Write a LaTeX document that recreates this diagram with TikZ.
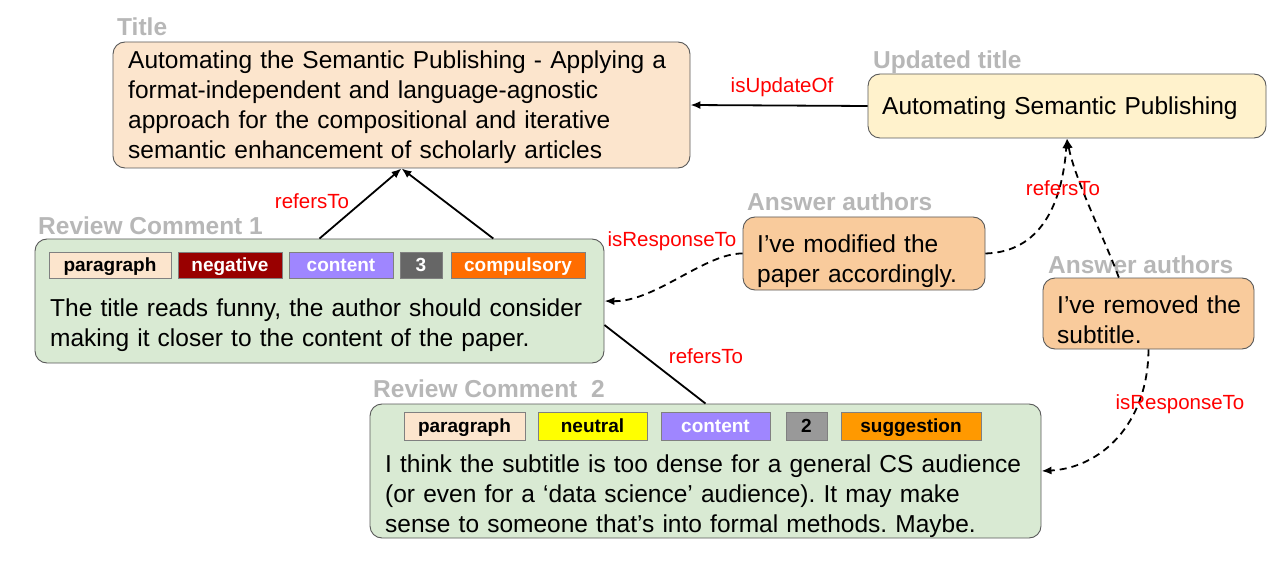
\documentclass[tikz,border=0pt]{standalone}
\usepackage{fontspec}
\setmainfont{Liberation Sans}
\usetikzlibrary{arrows.meta,calc}
\frenchspacing
\definecolor{titlefill}{HTML}{FCE5CD}
\definecolor{updfill}{HTML}{FFF2CC}
\definecolor{rcfill}{HTML}{D9EAD3}
\definecolor{ansfill}{HTML}{F9CB9C}
\definecolor{boxborder}{HTML}{595959}
\definecolor{labelgray}{HTML}{B7B7B7}
\definecolor{tagborder}{HTML}{808080}
\definecolor{negfill}{HTML}{990000}
\definecolor{confill}{HTML}{9F86FF}
\definecolor{threefill}{HTML}{666666}
\definecolor{compfill}{HTML}{FF6D01}
\definecolor{twofill}{HTML}{999999}
\definecolor{sugfill}{HTML}{FF9900}
\definecolor{neufill}{HTML}{FFFF00}
\definecolor{relred}{HTML}{FF0000}
\begin{document}
\begin{tikzpicture}[x=1pt,y=-1pt,
  box/.style={draw=boxborder, line width=0.9pt, rounded corners=12pt, inner sep=0pt},
  tagbox/.style={draw=tagborder, line width=0.7pt, inner sep=0pt, text height=13.6pt, text depth=0pt, font=\fontsize{19}{22}\selectfont\bfseries},
  body/.style={inner sep=0pt, anchor=base west, align=left, text width=700pt, font=\fontsize{24.5}{30}\selectfont},
  glabel/.style={inner sep=0pt, anchor=base west, text=labelgray, font=\fontsize{24.5}{30}\selectfont\bfseries},
  rel/.style={inner sep=0pt, text=relred, font=\fontsize{20.5}{24}\selectfont},
  conn/.style={line width=1.8pt, -{Latex[length=10pt,width=8pt]}},
  plainconn/.style={line width=1.8pt},
  dconn/.style={conn, dash pattern=on 7pt off 5pt}
]
\useasboundingbox (0,0) rectangle (1288,564);

% boxes
\node[box, fill=titlefill, minimum width=577pt, minimum height=126pt] (title) at (401.5,105) {};
\node[box, fill=updfill, minimum width=398pt, minimum height=64pt] (upd) at (1067,106) {};
\node[box, fill=ansfill, minimum width=242pt, minimum height=73pt] (ans1) at (864,253.5) {};
\node[box, fill=ansfill, minimum width=211pt, minimum height=71pt] (ans2) at (1148.5,313.5) {};
\node[box, fill=rcfill, minimum width=569pt, minimum height=124pt] (rc1) at (319.5,301) {};
\node[box, fill=rcfill, minimum width=671pt, minimum height=134pt] (rc2) at (705.5,471) {};

% gray labels
\node[glabel] (ltitle) at (117,36) {Title};
\node[glabel] (lupd) at (873,69) {Updated title};
\node[glabel] (lrc1) at (38,235) {Review Comment 1};
\node[glabel] (lans1) at (747,211) {Answer authors};
\node[glabel] (lans2) at (1048,273) {Answer authors};
\node[glabel] (lrc2) at (373,397) {Review Comment\ \ 2};

% body texts
\node[body] (ttitle) at (128,69) {Automating the Semantic Publishing - Applying a\\format-independent and language-agnostic\\approach for the compositional and iterative\\semantic enhancement of scholarly articles};
\node[body] (tupd) at (882,115) {Automating Semantic Publishing};
\node[body] (tans1) at (757,252) {I’ve modified the\\paper accordingly.};
\node[body] (tans2) at (1057,313) {I’ve removed the\\subtitle.};
\node[body] (trc1) at (50,316) {The title reads funny, the author should consider\\making it closer to the content of the paper.};
\node[body] (trc2) at (385,472) {I think the subtitle is too dense for a general CS audience\\(or even for a ‘data science’ audience). It may make\\sense to someone that’s into formal methods. Maybe.};

% tags RC1
\node[tagbox, fill=titlefill, minimum width=122pt, minimum height=26pt] (a1) at (110,265) {paragraph};
\node[tagbox, fill=negfill, text=white, minimum width=104pt, minimum height=26pt] (a2) at (230,265) {negative};
\node[tagbox, fill=confill, text=white, minimum width=104pt, minimum height=26pt] (a3) at (341,265) {content};
\node[tagbox, fill=threefill, text=white, minimum width=42pt, minimum height=26pt] (a4) at (421,265) {3};
\node[tagbox, fill=compfill, text=white, minimum width=134pt, minimum height=26pt] (a5) at (518,265) {compulsory};

% tags RC2
\node[tagbox, fill=titlefill, minimum width=121pt, minimum height=28pt] (b1) at (464.5,426) {paragraph};
\node[tagbox, fill=neufill, minimum width=109pt, minimum height=28pt] (b2) at (592.5,426) {neutral};
\node[tagbox, fill=confill, text=white, minimum width=109pt, minimum height=28pt] (b3) at (715.5,426) {content};
\node[tagbox, fill=twofill, minimum width=41pt, minimum height=28pt] (b4) at (806.5,426) {2};
\node[tagbox, fill=sugfill, minimum width=140pt, minimum height=28pt] (b5) at (911,426) {suggestion};

% connectors
\draw[conn] (upd.west) -- (title.east);
\draw[conn] (rc1.north) -- (title.south);
\draw[conn] ($(rc1.north west)!0.805!(rc1.north east)$) -- (title.south);
\draw[plainconn] ($(rc1.east)+(0,24)$) -- (rc2.north);
\draw[dconn] (ans1.west) .. controls (705,253) and (655,302) .. (rc1.east);
\draw[dconn] (ans1.east) .. controls (1040,252) and (1062,205) .. (upd.south);
\draw[dconn] ($(ans2.north west)!0.36!(ans2.north east)$) .. controls (1105,240) and (1075,180) .. (upd.south);
\draw[dconn] (ans2.south) .. controls (1148,425) and (1100,468) .. (rc2.east);

% relation labels
\node[rel] (r1) at (312,201) {refersTo};
\node[rel] (r2) at (782,87) {isUpdateOf};
\node[rel] (r3) at (672,241) {isResponseTo};
\node[rel] (r4) at (1063,188) {refersTo};
\node[rel] (r5) at (706,356) {refersTo};
\node[rel] (r6) at (1180,404) {isResponseTo};
\end{tikzpicture}
\end{document}
